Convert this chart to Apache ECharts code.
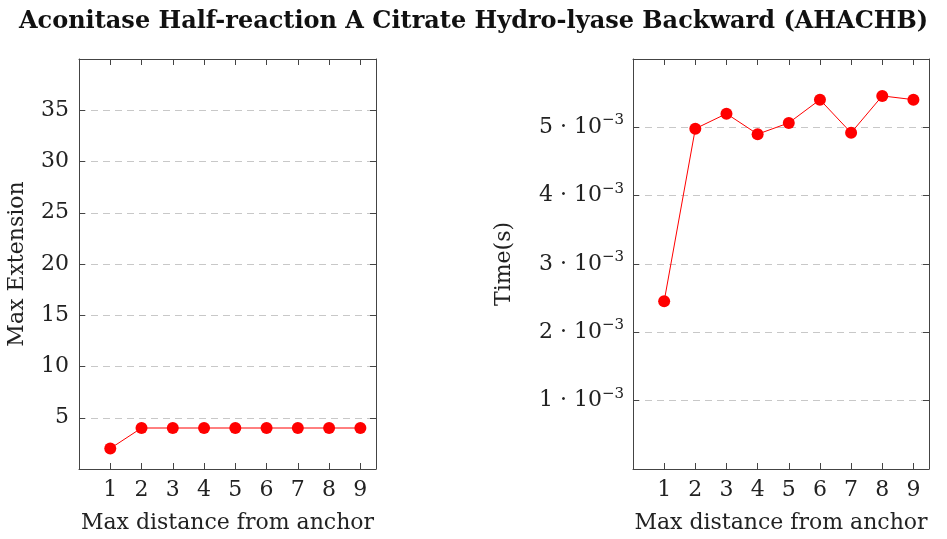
<!DOCTYPE html>
<html>
<head>
<meta charset="utf-8">
<script src="https://cdn.jsdelivr.net/npm/echarts@6/dist/echarts.min.js"></script>
<style>
  html, body { margin: 0; padding: 0; background: #fff; }
  #main { width: 947px; height: 539px; }
</style>
</head>
<body>
<div id="main"></div>
<script>
// data
var distances = [1, 2, 3, 4, 5, 6, 7, 8, 9];
var maxExtension = [2, 4, 4, 4, 4, 4, 4, 4, 4];
var timeSeconds = [0.002455, 0.00498, 0.0052, 0.0049, 0.005065, 0.005405, 0.00492, 0.00546, 0.005405];

var FONT = 'DejaVu Serif';
var FS = 22;
var AXIS_COLOR = '#444';

function pairs(xs, ys) {
    return xs.map(function (x, i) { return [x, ys[i]]; });
}

var myChart = echarts.init(document.getElementById('main'));

// common bits for the framed pgfplots-like axes
function xMain(gridIndex) {
    return {
        type: 'value', gridIndex: gridIndex, min: 0, max: 9.5, interval: 1,
        name: 'Max distance from anchor', nameLocation: 'middle', nameGap: 43,
        nameTextStyle: { fontFamily: FONT, fontSize: FS, color: '#222' },
        axisLine: { show: true, lineStyle: { color: AXIS_COLOR, width: 1 } },
        axisTick: { show: true, inside: true, length: 6, lineStyle: { color: AXIS_COLOR } },
        axisLabel: {
            fontFamily: FONT, fontSize: FS, color: '#222', margin: 10,
            showMinLabel: false, showMaxLabel: false,
            formatter: function (v) { return (v >= 1 && v <= 9) ? String(v) : ''; }
        },
        splitLine: { show: false }
    };
}
function xTop(gridIndex) {
    return {
        type: 'value', gridIndex: gridIndex, position: 'top', min: 0, max: 9.5, interval: 1,
        axisLine: { show: true, onZero: false, lineStyle: { color: AXIS_COLOR, width: 1 } },
        axisTick: { show: true, inside: true, length: 6, lineStyle: { color: AXIS_COLOR } },
        axisLabel: { show: false }, splitLine: { show: false }
    };
}
function yRight(gridIndex, max, interval) {
    return {
        type: 'value', gridIndex: gridIndex, position: 'right', min: 0, max: max, interval: interval,
        axisLine: { show: true, onZero: false, lineStyle: { color: AXIS_COLOR, width: 1 } },
        axisTick: { show: true, inside: true, length: 6, lineStyle: { color: AXIS_COLOR } },
        axisLabel: { show: false }, splitLine: { show: false }
    };
}

option = {
    backgroundColor: '#fff',
    animation: false,
    title: {
        text: 'Aconitase Half-reaction A Citrate Hydro-lyase Backward (AHACHB)',
        left: 'center', top: 5,
        textStyle: { fontFamily: FONT, fontSize: 24, fontWeight: 'bold', color: '#111' }
    },
    grid: [
        { left: 79, top: 59, width: 297, height: 410 },
        { left: 633, top: 59, width: 296, height: 410 }
    ],
    xAxis: [xMain(0), xTop(0), xMain(1), xTop(1)],
    yAxis: [
        {
            type: 'value', gridIndex: 0, min: 0, max: 40, interval: 5,
            name: 'Max Extension', nameLocation: 'middle', nameGap: 51,
            nameTextStyle: { fontFamily: FONT, fontSize: FS, color: '#222' },
            axisLine: { show: true, lineStyle: { color: AXIS_COLOR, width: 1 } },
            axisTick: { show: true, inside: true, length: 6, lineStyle: { color: AXIS_COLOR } },
            axisLabel: {
                fontFamily: FONT, fontSize: FS, color: '#222', margin: 10,
                formatter: function (v) { return (v > 0 && v < 40) ? String(v) : ''; }
            },
            splitLine: { show: true, showMinLine: false, showMaxLine: false,
                lineStyle: { color: '#c8c8c8', type: [7, 5], width: 1 } }
        },
        yRight(0, 40, 5),
        {
            type: 'value', gridIndex: 1, min: 0, max: 0.006, interval: 0.001,
            name: 'Time(s)', nameLocation: 'middle', nameGap: 118,
            nameTextStyle: { fontFamily: FONT, fontSize: FS, color: '#222' },
            axisLine: { show: true, lineStyle: { color: AXIS_COLOR, width: 1 } },
            axisTick: { show: true, inside: true, length: 6, lineStyle: { color: AXIS_COLOR } },
            axisLabel: {
                margin: 9,
                formatter: function (v) {
                    var k = Math.round(v * 1000);
                    if (k <= 0 || k >= 6) return '';
                    return '{b|' + k + ' \u00b7 10}{s|\u22123}';
                },
                rich: {
                    b: { fontFamily: FONT, fontSize: FS, color: '#222' },
                    s: { fontFamily: FONT, fontSize: 15, color: '#222', padding: [0, 0, 14, 0] }
                }
            },
            splitLine: { show: true, showMinLine: false, showMaxLine: false,
                lineStyle: { color: '#c8c8c8', type: [7, 5], width: 1 } }
        },
        yRight(1, 0.006, 0.001)
    ],
    series: [
        {
            type: 'line', xAxisIndex: 0, yAxisIndex: 0,
            data: pairs(distances, maxExtension),
            symbol: 'circle', symbolSize: 12,
            lineStyle: { color: '#ff0000', width: 1 },
            itemStyle: { color: '#ff0000' }
        },
        {
            type: 'line', xAxisIndex: 2, yAxisIndex: 2,
            data: pairs(distances, timeSeconds),
            symbol: 'circle', symbolSize: 12,
            lineStyle: { color: '#ff0000', width: 1 },
            itemStyle: { color: '#ff0000' }
        }
    ]
};
myChart.setOption(option);
</script>
</body>
</html>
